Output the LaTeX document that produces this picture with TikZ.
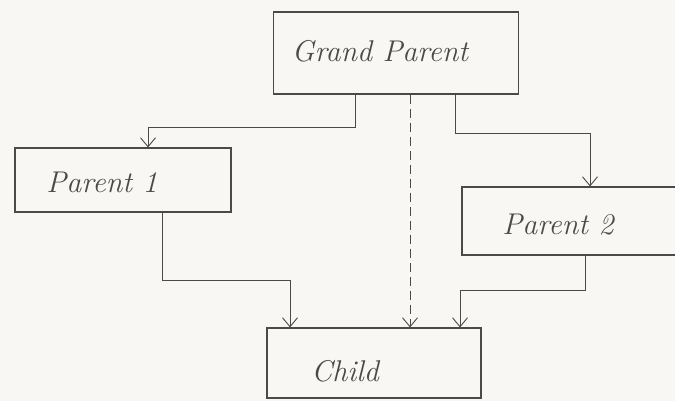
\documentclass[tikz,border=0pt]{standalone}
\usetikzlibrary{arrows.meta}
\definecolor{pencil}{HTML}{4A4A48}
\definecolor{paper}{HTML}{F8F7F3}
\begin{document}
\begin{tikzpicture}[x=1pt,y=-1pt,
  box/.style={draw=pencil,line width=1.1pt,minimum width=#1,inner sep=0pt},
  caption/.style={font=\fontsize{30}{34}\selectfont\itshape,text=pencil,inner sep=0pt},
  link/.style={draw=pencil,line width=0.9pt,-{Straight Barb[length=9pt,width=15pt,line width=0.9pt]}},
  guide/.style={link,dash pattern=on 9pt off 5pt}]
  \fill[paper] (0,0) rectangle (675,401);
  \useasboundingbox (0,0) rectangle (675,401);

  \node[box=245pt,minimum height=82pt,
    label={[caption,xshift=-16pt,yshift=2pt]center:Grand Parent}] (gp) at (396,53) {};
  \node[box=216pt,minimum height=64pt,
    label={[caption,xshift=-21pt,yshift=-2pt]center:Parent 1}] (p1) at (123,180) {};
  \node[box=222pt,minimum height=68pt,
    label={[caption,xshift=-15pt,yshift=-4pt]center:Parent 2}] (p2) at (573,221) {};
  \node[box=214pt,minimum height=70pt,
    label={[caption,xshift=-29pt,yshift=-8pt]center:Child}] (ch) at (374,363) {};

  % grandparent down to both parents
  \coordinate (gpl) at (355,0 |- gp.south);
  \coordinate (gpr) at (455,0 |- gp.south);
  \coordinate (gpm) at (410,0 |- gp.south);
  \coordinate (p1in) at (148,0 |- p1.north);
  \coordinate (p2in) at (590,0 |- p2.north);
  \draw[link] (gpl) -- (355,127) -| (p1in);
  \draw[link] (gpr) -- (455,133) -| (p2in);

  % grandparent to child, indirect
  \coordinate (chm) at (410,0 |- ch.north);
  \draw[guide] (gpm) -- (chm);

  % parents down to child
  \coordinate (p1out) at (162,0 |- p1.south);
  \coordinate (p2out) at (585,0 |- p2.south);
  \coordinate (chl) at (290,0 |- ch.north);
  \coordinate (chr) at (460,0 |- ch.north);
  \draw[link] (p1out) -- (162,280) -| (chl);
  \draw[link] (p2out) -- (585,290) -| (chr);
\end{tikzpicture}
\end{document}
